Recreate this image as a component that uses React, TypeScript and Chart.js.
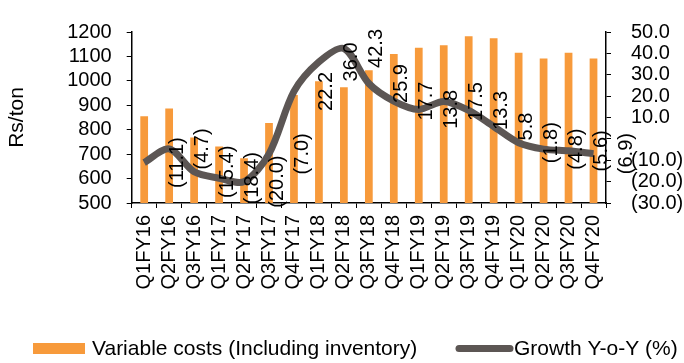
import React, { useEffect, useRef } from "react";
import { Chart, registerables } from "chart.js";

Chart.register(...registerables);

const categories = [
  "Q1FY16", "Q2FY16", "Q3FY16", "Q1FY17", "Q2FY17", "Q3FY17", "Q4FY17",
  "Q1FY18", "Q2FY18", "Q3FY18", "Q4FY18", "Q1FY19", "Q2FY19", "Q3FY19",
  "Q4FY19", "Q1FY20", "Q2FY20", "Q3FY20", "Q4FY20",
];
const variableCosts = [
  855, 887, 768, 731, 683, 827, 942, 998, 974, 1043, 1110, 1136, 1146, 1183,
  1174, 1115, 1092, 1115, 1092,
];
const growthYoY = [
  -11.1, -4.7, -15.4, -18.4, -20.0, -7.0, 22.2, 36.0, 42.3, 25.9, 17.7, 13.8,
  17.5, 13.3, 5.8, -1.8, -4.8, -5.6, -6.9,
];
const barLabel = "Variable costs (Including inventory)";
const lineLabel = "Growth Y-o-Y (%)";
const leftTitle = "Rs/ton";

const ORANGE = "#F79A3B";
const GRAY = "#5C5654";
const FONT = "'Liberation Sans', Arial, sans-serif";

const fmtPct = (v: number) =>
  v < 0 ? `(${Math.abs(v).toFixed(1)})` : v.toFixed(1);

const dataLabelPlugin = {
  id: "dataLabels",
  afterDatasetsDraw(chart: any) {
    const meta = chart.getDatasetMeta(1);
    const ctx = chart.ctx;
    ctx.save();
    ctx.font = `20px ${FONT}`;
    ctx.fillStyle = "#000";
    ctx.textAlign = "center";
    ctx.textBaseline = "middle";
    meta.data.forEach((pt: any, i: number) => {
      ctx.save();
      ctx.translate(pt.x + 32, pt.y);
      ctx.rotate(-Math.PI / 2);
      ctx.fillText(fmtPct(growthYoY[i]), 0, 1);
      ctx.restore();
    });
    ctx.restore();
  },
};

const legendPlugin = {
  id: "customLegend",
  afterDraw(chart: any) {
    const ctx = chart.ctx;
    ctx.save();
    const y = 348.5;
    ctx.fillStyle = ORANGE;
    ctx.fillRect(33, y - 5.5, 52, 11);
    ctx.font = `21px ${FONT}`;
    ctx.fillStyle = "#000";
    ctx.textBaseline = "middle";
    ctx.textAlign = "left";
    ctx.fillText(barLabel, 92, y + 1);
    ctx.strokeStyle = GRAY;
    ctx.lineWidth = 7;
    ctx.lineCap = "round";
    ctx.beginPath();
    ctx.moveTo(459, y);
    ctx.lineTo(510, y);
    ctx.stroke();
    ctx.fillText(lineLabel, 514, y + 1);
    ctx.restore();
  },
};

export default function App() {
  const ref = useRef<HTMLCanvasElement | null>(null);
  useEffect(() => {
    if (!ref.current) return;
    const chart = new Chart(ref.current, {
      type: "bar",
      data: {
        labels: categories,
        datasets: [
          {
            type: "bar",
            label: barLabel,
            data: variableCosts,
            backgroundColor: ORANGE,
            yAxisID: "y",
            barPercentage: 0.31,
            categoryPercentage: 1,
            order: 2,
          },
          {
            type: "line",
            label: lineLabel,
            data: growthYoY,
            borderColor: GRAY,
            backgroundColor: GRAY,
            borderWidth: 7,
            pointRadius: 0,
            tension: 0.3,
            yAxisID: "y1",
            order: 1,
          } as any,
        ],
      },
      options: {
        animation: false,
        responsive: true,
        maintainAspectRatio: false,
        layout: { padding: { top: 20, left: 0, right: 0, bottom: 0 } },
        plugins: {
          legend: { display: false },
          tooltip: { enabled: false },
        },
        scales: {
          x: {
            offset: true,
            grid: {
              display: true,
              offset: true,
              drawOnChartArea: false,
              drawTicks: true,
              tickLength: 5,
              tickColor: "#000",
              color: "#000",
            },
            border: { display: true, color: "#000", width: 1.5 },
            ticks: {
              autoSkip: false,
              maxRotation: 90,
              minRotation: 90,
              padding: 7,
              color: "#000",
              font: { family: FONT, size: 20 },
            },
            afterFit(scale: any) {
              scale.height = 160;
            },
          },
          y: {
            position: "left",
            min: 500,
            max: 1200,
            grid: {
              display: true,
              drawOnChartArea: false,
              drawTicks: true,
              tickLength: 5,
              tickColor: "#000",
              color: "#000",
            },
            border: { display: true, color: "#000", width: 1.5 },
            ticks: {
              stepSize: 100,
              autoSkip: false,
              padding: 15,
              color: "#000",
              font: { family: FONT, size: 20 },
              callback: (v: any) => String(v),
            },
            title: {
              display: true,
              text: leftTitle,
              color: "#000",
              padding: { top: 5, bottom: 0 },
              font: { family: FONT, size: 21 },
            },
            afterFit(scale: any) {
              scale.width = 131.7;
            },
          },
          y1: {
            position: "right",
            min: -30,
            max: 50,
            grid: {
              display: true,
              drawOnChartArea: false,
              drawTicks: true,
              tickLength: 5,
              tickColor: "#000",
              color: "#000",
            },
            border: { display: true, color: "#000", width: 1.5 },
            ticks: {
              stepSize: 10,
              autoSkip: false,
              padding: 20,
              color: "#000",
              font: { family: FONT, size: 20 },
              callback: (v: any) => (Number(v) === 0 ? "" : fmtPct(Number(v))),
            },
            afterFit(scale: any) {
              scale.width = 78;
            },
          },
        },
      },
      plugins: [dataLabelPlugin, legendPlugin],
    });
    return () => chart.destroy();
  }, []);

  return (
    <div style={{ position: "absolute", left: 0, top: 0, width: 684, height: 363 }}>
      <canvas ref={ref} />
    </div>
  );
}
